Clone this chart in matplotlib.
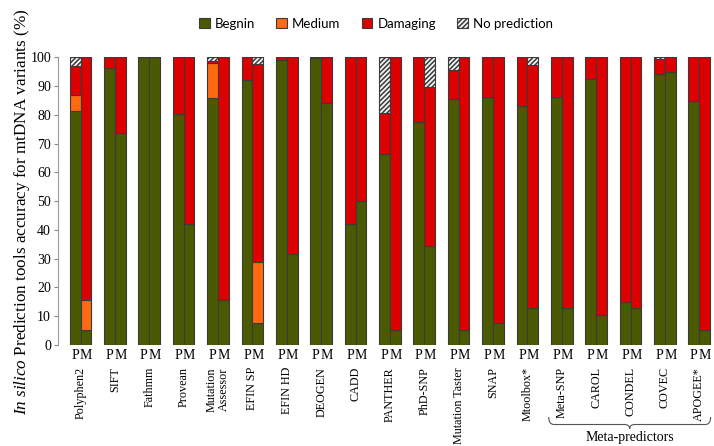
import matplotlib
matplotlib.use("Agg")
import matplotlib.pyplot as plt
import matplotlib.transforms as mtransforms
from matplotlib.path import Path
from matplotlib.patches import PathPatch, Patch
import numpy as np

plt.rcParams['font.family'] = ['Liberation Serif', 'DejaVu Serif']
plt.rcParams['mathtext.fontset'] = 'custom'
plt.rcParams['mathtext.it'] = 'Liberation Serif:italic'
plt.rcParams['mathtext.rm'] = 'Liberation Serif'
plt.rcParams['hatch.linewidth'] = 1.1

tools = ["Polyphen2", "SIFT", "Fathmm", "Provean", "Mutation\nAssessor", "EFIN SP",
         "EFIN HD", "DEOGEN", "CADD", "PANTHER", "PhD-SNP", "Mutation Taster",
         "SNAP", "Mtoolbox*", "Meta-SNP", "CAROL", "CONDEL", "COVEC", "APOGEE*"]

benign_P   = [81.2, 96.2, 100, 80.3, 85.8, 92.0, 99.0, 99.7, 42.0, 66.3, 77.6, 85.4, 86.1, 83.0, 86.1, 92.4, 15.0, 94.3, 84.8]
medium_P   = [5.8, 0, 0, 0, 12.2, 0, 0, 0, 0, 0, 0, 0, 0, 0, 0, 0, 0, 0, 0]
damaging_P = [10.0, 3.8, 0, 19.7, 0.8, 8.0, 1.0, 0.3, 58.0, 14.2, 22.4, 10.2, 13.9, 17.0, 13.9, 7.6, 85.0, 5.2, 15.2]
nopred_P   = [3.0, 0, 0, 0, 1.2, 0, 0, 0, 0, 19.5, 0, 4.4, 0, 0, 0, 0, 0, 0.5, 0]

benign_M   = [5.3, 73.6, 100, 42.0, 15.7, 7.7, 31.5, 84.2, 50.0, 5.3, 34.3, 5.3, 7.7, 13.0, 13.0, 10.5, 13.0, 95.0, 5.3]
medium_M   = [10.2, 0, 0, 0, 0, 21.0, 0, 0, 0, 0, 0, 0, 0, 0, 0, 0, 0, 0, 0]
damaging_M = [84.5, 26.4, 0, 58.0, 84.3, 68.8, 68.5, 15.8, 50.0, 94.7, 55.3, 94.7, 92.3, 84.4, 87.0, 89.5, 87.0, 5.0, 94.7]
nopred_M   = [0, 0, 0, 0, 0, 2.5, 0, 0, 0, 0, 10.4, 0, 0, 2.6, 0, 0, 0, 0, 0]

categories = ["Begnin", "Medium", "Damaging", "No prediction"]
colors = ["#4a5a02", "#ff6a10", "#dd0000", "#f4f4f4"]
hatches = [None, None, None, "///////"]
yticks = list(range(0, 101, 10))

fig = plt.figure(figsize=(7.14, 4.46), dpi=100)
ax = fig.add_axes([58/714, 1-345/446, (712-58)/714, (345-57.3)/446])

x = np.arange(len(tools))
w = 0.315
edge = "#3a3a3a"

for xs, series in ((x - w/2, [benign_P, medium_P, damaging_P, nopred_P]),
                   (x + w/2, [benign_M, medium_M, damaging_M, nopred_M])):
    bottom = np.zeros(len(tools))
    for vals, col, hat in zip(series, colors, hatches):
        vals = np.array(vals, dtype=float)
        ax.bar(xs, vals, w, bottom=bottom, color=col, edgecolor=edge,
               linewidth=0.8, hatch=hat)
        bottom += vals

ax.set_xlim(-0.656, 18.37)
ax.set_ylim(0, 100)
ax.set_yticks(yticks)
ax.tick_params(axis='y', labelsize=10, length=3, color='#888888', width=0.8, pad=2)
for s in ["top", "right", "bottom"]:
    ax.spines[s].set_visible(False)
ax.spines["left"].set_color("#999999")
ax.spines["left"].set_linewidth(0.8)

pm_pos = np.concatenate([x - w/2, x + w/2])
pm_lab = ["P"] * len(tools) + ["M"] * len(tools)
ax.set_xticks(pm_pos)
ax.set_xticklabels(pm_lab, fontsize=10)
ax.tick_params(axis='x', length=0, pad=3)

trans = mtransforms.blended_transform_factory(ax.transData, ax.transAxes)
px = lambda p: (p - 345) / -(345 - 57.3)
for xi, name in zip(x, tools):
    ax.text(xi, px(367), name, rotation=90, ha='center', va='top', fontsize=8.7,
            transform=trans, linespacing=1.0)

# brace for meta-predictors
xl, xr = 13.62, 18.33
xm = (xl + xr) / 2
yt, yb, ytip = px(417), px(424.5), px(429)
verts = [(xl, yt), (xl, yb), (xl + 0.15, yb),
         (xm - 0.15, yb), (xm, yb), (xm, ytip),
         (xm, yb), (xm + 0.15, yb),
         (xr - 0.15, yb), (xr, yb), (xr, yt)]
codes = [Path.MOVETO, Path.CURVE3, Path.CURVE3,
         Path.LINETO, Path.CURVE3, Path.CURVE3,
         Path.CURVE3, Path.CURVE3,
         Path.LINETO, Path.CURVE3, Path.CURVE3]
brace = PathPatch(Path(verts, codes), transform=trans, fill=False,
                  edgecolor="#555555", linewidth=0.8, clip_on=False)
ax.add_patch(brace)
ax.text(xm, px(437), "Meta-predictors", ha='center', va='center', fontsize=10,
        transform=trans)

fig.text(22/714, 1-212/446,
         r"$\it{In\ silico}$ Prediction tools accuracy for mtDNA variants (%)",
         rotation=90, ha='center', va='center', fontsize=12.3)

handles = [Patch(facecolor=c, edgecolor=edge, hatch=h, linewidth=0.8) for c, h in zip(colors, hatches)]
leg = fig.legend(handles, categories, loc='center', bbox_to_anchor=(376/714, 1-24/446),
                 ncol=4, frameon=False, handlelength=0.8, handleheight=0.8,
                 handletextpad=0.4, columnspacing=1.6,
                 prop={'family': 'Lato', 'size': 9.5})

fig.savefig("out.png", dpi=100)
